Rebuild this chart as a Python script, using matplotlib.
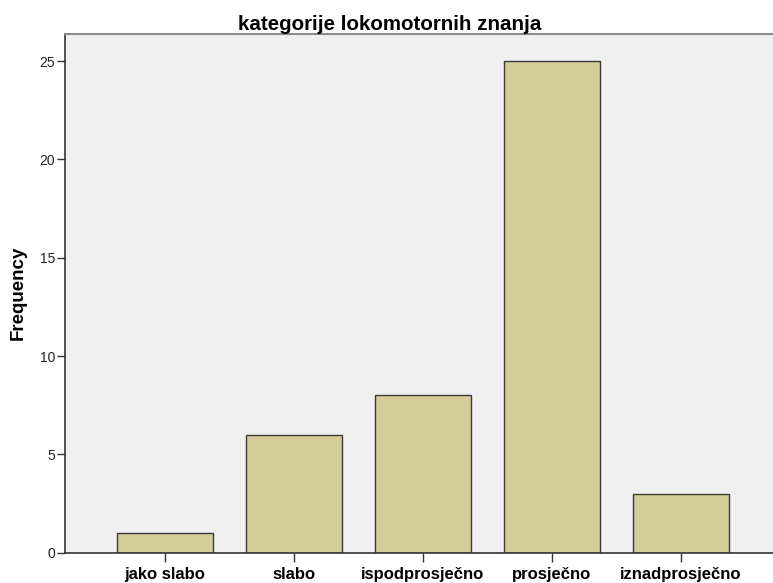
import matplotlib
matplotlib.use('Agg')
import matplotlib.pyplot as plt

categories = ['jako slabo', 'slabo', 'ispodprosječno', 'prosječno', 'iznadprosječno']
frequency = [1, 6, 8, 25, 3]
yticks = [0, 5, 10, 15, 20, 25]

plt.rcParams['font.family'] = ['Liberation Sans', 'DejaVu Sans']

fig = plt.figure(figsize=(7.73, 5.83), dpi=100)
ax = fig.add_axes([65 / 773, (583 - 552.6) / 583, 716 / 773, 518.6 / 583])
ax.set_facecolor('#f0f0f0')

x = range(len(categories))
ax.bar(x, frequency, width=0.75, color='#d3ce97', edgecolor='#3a3a3a', linewidth=1.0)

ax.set_xlim(-0.775, 4.775)
ax.set_ylim(0, 26.38)
ax.set_yticks(yticks)
ax.set_xticks(list(x))
ax.set_xticklabels(categories, fontsize=12, fontweight='bold')
ax.tick_params(axis='y', labelsize=10, length=6, width=1, color='#333333', pad=1, labelcolor='#222222')
ax.tick_params(axis='x', length=6.5, width=1, color='#333333', pad=4)

ax.spines['right'].set_visible(False)
ax.spines['top'].set_color('#8a8a8a')
ax.spines['top'].set_linewidth(1.5)
for s in ['left', 'bottom']:
    ax.spines[s].set_color('#333333')
    ax.spines[s].set_linewidth(1.2)

ax.set_ylabel('Frequency', fontsize=13.5, fontweight='bold', labelpad=9)
# title is centred on the visible figure width, not on the (clipped) axes
ax.set_title('kategorije lokomotornih znanja', fontsize=14.8, fontweight='bold', pad=3,
             x=(389.5 - 65) / 716)

fig.savefig('out.png', dpi=100)
